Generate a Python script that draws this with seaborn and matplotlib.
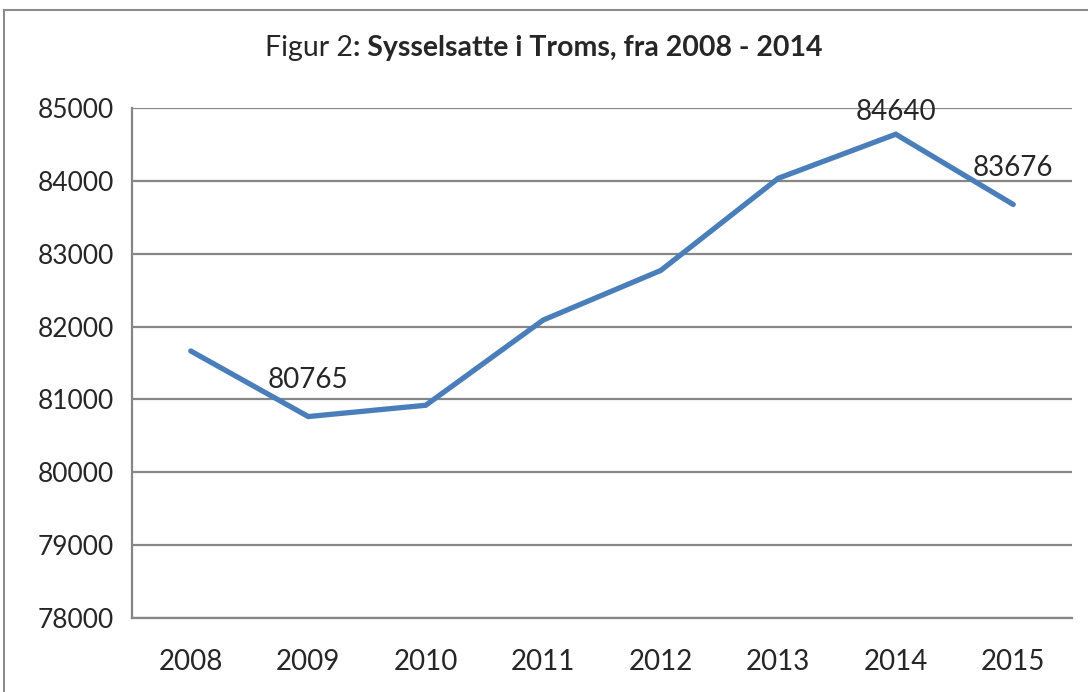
import pandas as pd
import seaborn as sns
import matplotlib.pyplot as plt
from matplotlib.patches import Rectangle

# data
years = ["2008", "2009", "2010", "2011", "2012", "2013", "2014", "2015"]
employed = [81665, 80765, 80920, 82090, 82770, 84035, 84640, 83676]
labelled = ["2009", "2014", "2015"]

y_ticks = [78000, 79000, 80000, 81000, 82000, 83000, 84000, 85000]

# how far above the point each data label sits (points)
label_offset = {"2009": 17, "2014": 7, "2015": 17}

sns.set_style("white")
plt.rcParams["font.family"] = ["Lato", "DejaVu Sans"]

df = pd.DataFrame({"year": years, "employed": employed})

fig = plt.figure(figsize=(10.88, 6.92), dpi=100)
ax = fig.add_axes([132 / 1088, 1 - 618 / 692, 940 / 1088, 510 / 692])

# outer chart border (right/bottom edge cut off in the original)
fig.patches.append(Rectangle((4 / 1088, -0.1), 1.2, (682 / 692) + 0.1,
                             transform=fig.transFigure, fill=False,
                             edgecolor="#8c8c8c", linewidth=1.5))

sns.lineplot(data=df, x="year", y="employed", ax=ax, color="#4a7ebb",
             linewidth=3.8, solid_capstyle="round", solid_joinstyle="miter")

ax.set_ylim(78000, 85000)
ax.set_xlim(-0.5, len(years) - 0.5)
ax.set_yticks(y_ticks)
ax.set_yticklabels([str(v) for v in y_ticks], fontsize=19)
ax.yaxis.grid(True, color="#868686", linewidth=1.6)
ax.set_axisbelow(True)

# category axis: tick marks between categories, labels centred
ax.set_xticks([i - 0.5 for i in range(len(years) + 1)])
ax.set_xticklabels([])
ax.set_xticks(range(len(years)), minor=True)
ax.set_xticklabels(years, minor=True, fontsize=20)
ax.tick_params(axis="x", which="major", direction="out", length=8,
               width=1.4, color="#868686")
ax.tick_params(axis="x", which="minor", length=0, pad=22)
ax.tick_params(axis="y", direction="out", length=8, width=1.4,
               color="#868686", pad=5)

for side in ["top", "right"]:
    ax.spines[side].set_visible(False)
for side in ["left", "bottom"]:
    ax.spines[side].set_color("#868686")
    ax.spines[side].set_linewidth(1.6)
ax.set_xlabel("")
ax.set_ylabel("")

for i, (yr, val) in enumerate(zip(years, employed)):
    if yr in labelled:
        ax.annotate(str(val), (i, val), xytext=(0, label_offset[yr]),
                    textcoords="offset points", ha="center", va="bottom",
                    fontsize=20)

# title: normal "Figur 2" + bold remainder, centred together
fig.canvas.draw()
r = fig.canvas.get_renderer()
t1 = fig.text(0, 1 - 48 / 692, "Figur 2", fontsize=20.5, va="center")
t2 = fig.text(0, 1 - 48 / 692, ": Sysselsatte i Troms, fra 2008 - 2014",
              fontsize=20.5, fontweight="bold", va="center")
w1 = t1.get_window_extent(r).width
w2 = t2.get_window_extent(r).width
x0 = (544 - (w1 + w2) / 2)
t1.set_x(x0 / 1088)
t2.set_x((x0 + w1) / 1088)

fig.savefig("out.png", dpi=100, facecolor="white")
